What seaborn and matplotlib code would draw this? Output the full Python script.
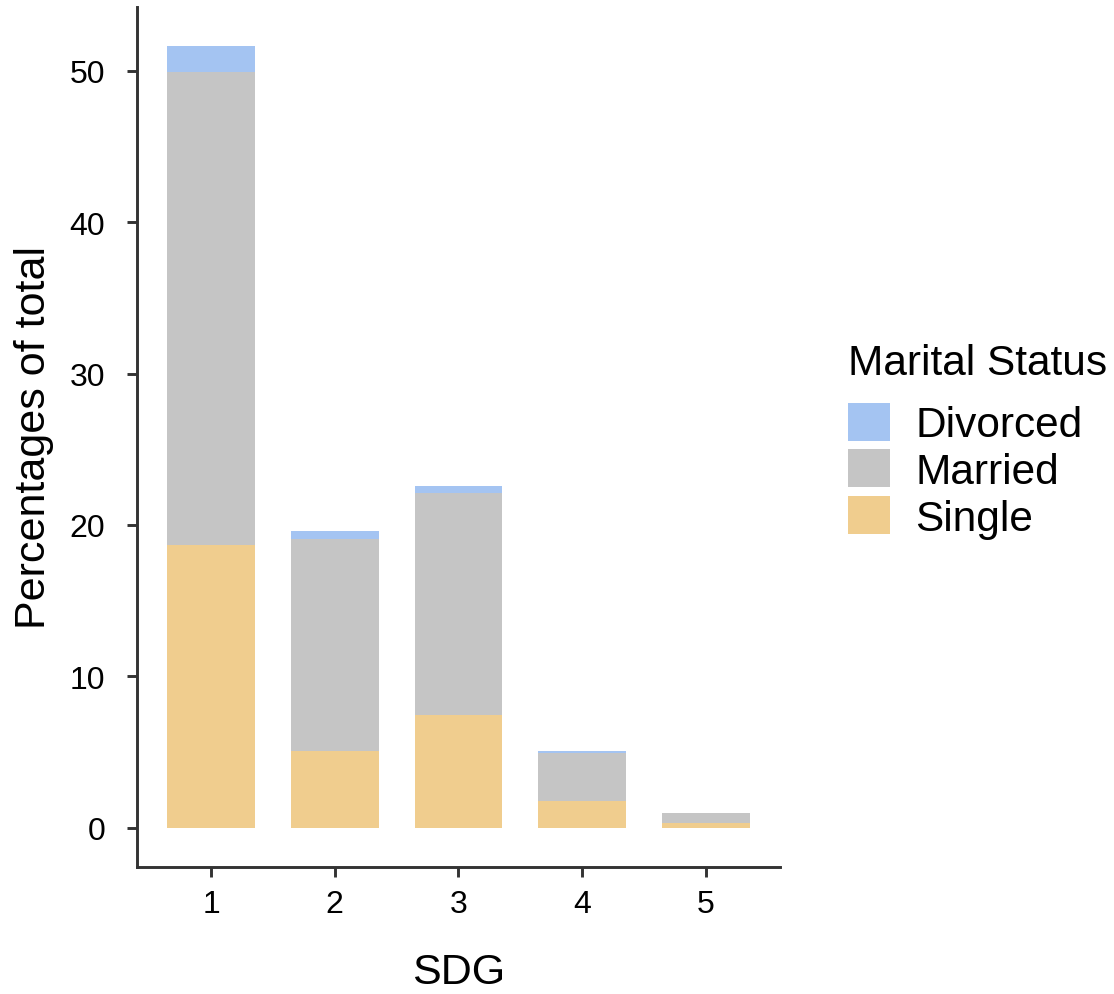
import pandas as pd
import matplotlib
matplotlib.use('Agg')
import matplotlib.pyplot as plt
import seaborn as sns
from matplotlib.patches import Patch

sns.set_style('white')
plt.rcParams['font.family'] = ['Liberation Sans', 'DejaVu Sans']
plt.rcParams['text.color'] = 'black'
plt.rcParams['axes.labelcolor'] = 'black'

# Data (percentages of total)
sdg = [1, 2, 3, 4, 5]
single = [18.67, 5.08, 7.45, 1.78, 0.33]
married = [31.28, 13.96, 14.63, 3.16, 0.66]
divorced = [1.70, 0.59, 0.52, 0.14, 0.0]

status_order = ['Divorced', 'Married', 'Single']
colors = {'Divorced': '#A4C4F2', 'Married': '#C5C5C5', 'Single': '#F0CD8E'}

df = pd.DataFrame({
    'SDG': sdg * 3,
    'Status': ['Single'] * 5 + ['Married'] * 5 + ['Divorced'] * 5,
    'Pct': single + married + divorced,
})

fig = plt.figure(figsize=(11.14, 9.95), dpi=100)
ax = fig.add_axes([0.123, 0.128, 0.577, 0.864])

# Stacked bars (Single at bottom, Divorced on top)
sns.histplot(data=df, x='SDG', weights='Pct', hue='Status', hue_order=status_order,
             palette=colors, multiple='stack', discrete=True, shrink=0.71,
             alpha=1, linewidth=0, legend=False, ax=ax)

ax.set_xlim(0.4, 5.6)
ax.set_ylim(-2.58, 54.23)
ax.set_xticks(sdg)
ax.set_yticks([0, 10, 20, 30, 40, 50])
ax.set_xlabel('SDG', fontsize=31, labelpad=24)
ax.set_ylabel('Percentages of total', fontsize=31, labelpad=11)

for side in ['top', 'right']:
    ax.spines[side].set_visible(False)
for side in ['left', 'bottom']:
    ax.spines[side].set_color('#333333')
    ax.spines[side].set_linewidth(2.1)
ax.tick_params(axis='both', direction='out', length=7, width=2.1, color='#333333',
               labelsize=23, labelcolor='black')
ax.tick_params(axis='x', pad=9)
ax.tick_params(axis='y', pad=16)
ax.tick_params(left=True, bottom=True)

# Legend
handles = [Patch(facecolor=colors[s], edgecolor='white', linewidth=0) for s in status_order]
leg = fig.legend(handles, status_order, title='Marital Status', loc='upper left',
                 bbox_to_anchor=(0.761, 0.654), frameon=False, fontsize=30.5,
                 title_fontsize=30.5, handlelength=1.0, handleheight=1.0,
                 handletextpad=0.6, labelspacing=0.1, borderpad=0, borderaxespad=0)
leg._legend_box.align = 'left'
leg._legend_box.sep = 14

fig.savefig('out.png', dpi=100)
